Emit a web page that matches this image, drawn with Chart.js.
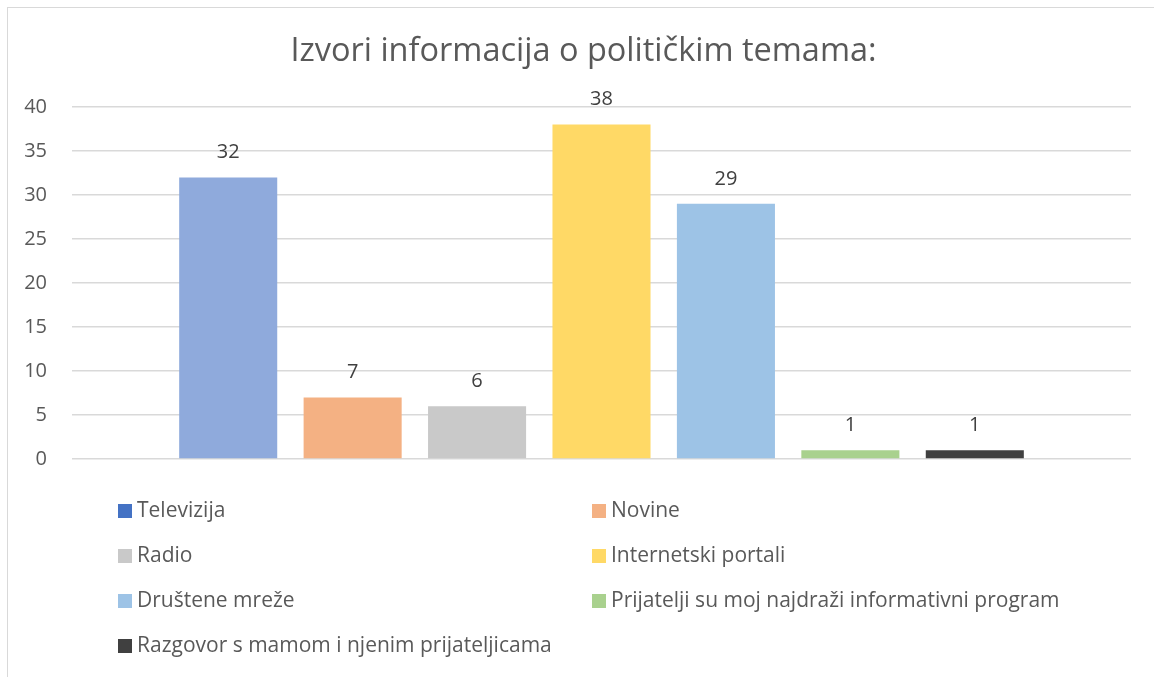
<!DOCTYPE html>
<html>
<head>
<meta charset="utf-8">
<script src="https://cdn.jsdelivr.net/npm/chart.js@4"></script>
<style>
  html, body { margin: 0; padding: 0; background: #fff; overflow: hidden; }
  #frame { position: absolute; left: 7px; top: 7px; width: 1200px; height: 700px; border: 1px solid #d9d9d9; }
  #myChart { position: absolute; left: 0; top: 0; }
</style>
</head>
<body>
<div id="frame"></div>
<canvas id="myChart" width="1154" height="677"></canvas>
<script>
const chartTitle = 'Izvori informacija o političkim temama:';
const seriesNames = ['Televizija', 'Novine', 'Radio', 'Internetski portali',
                     'Društene mreže', 'Prijatelji su moj najdraži informativni program',
                     'Razgovor s mamom i njenim prijateljicama'];
const seriesValues = [32, 7, 6, 38, 29, 1, 1];
const barColors = ['#8faadc', '#f4b183', '#c9c9c9', '#ffd966', '#9dc3e6', '#a9d18e', '#404040'];
const legendColors = ['#4472c4', '#f4b183', '#c9c9c9', '#ffd966', '#9dc3e6', '#a9d18e', '#404040'];
const yTicks = [0, 5, 10, 15, 20, 25, 30, 35, 40];

const FONT = '"Open Sans", Lato, sans-serif';

// naslov (centriran na okvir grafikona, ne na plot)
const frameTitle = {
    id: 'frameTitle',
    afterDraw(c) {
        const ctx = c.ctx;
        ctx.save();
        ctx.font = '32.5px ' + FONT;
        ctx.fillStyle = '#595959';
        ctx.textAlign = 'center';
        ctx.textBaseline = 'middle';
        ctx.fillText(chartTitle, (36 + c.chartArea.right) / 2, 52);
        ctx.restore();
    }
};

// vrijednosti iznad stupaca
const valueLabels = {
    id: 'valueLabels',
    afterDatasetsDraw(c) {
        const ctx = c.ctx;
        ctx.save();
        ctx.font = '20px ' + FONT;
        ctx.fillStyle = '#404040';
        ctx.textAlign = 'center';
        ctx.textBaseline = 'middle';
        c.data.datasets.forEach((ds, i) => {
            const bar = c.getDatasetMeta(i).data[0];
            ctx.fillText(ds.data[0], bar.x, bar.y - 25);
        });
        ctx.restore();
    }
};

// legenda u dva stupca
const twoColLegend = {
    id: 'twoColLegend',
    afterDraw(c) {
        const ctx = c.ctx;
        ctx.save();
        ctx.font = '21px ' + FONT;
        ctx.textBaseline = 'middle';
        ctx.textAlign = 'left';
        c.data.datasets.forEach((ds, i) => {
            const col = i % 2, row = Math.floor(i / 2);
            const x = col === 0 ? 118 : 592;
            const y = 511 + row * 45;
            ctx.fillStyle = legendColors[i];
            ctx.fillRect(x, y - 7, 14, 14);
            ctx.fillStyle = '#595959';
            ctx.fillText(ds.label, x + 19, y);
        });
        ctx.restore();
    }
};

const datasets = seriesNames.map((name, i) => ({
    label: name,
    data: [seriesValues[i]],
    backgroundColor: barColors[i],
    categoryPercentage: 0.8225,
    barPercentage: 0.788
}));

new Chart(document.getElementById('myChart'), {
    type: 'bar',
    data: { labels: [''], datasets: datasets },
    options: {
        responsive: false,
        animation: false,
        layout: { padding: { top: 107, left: 0, right: 23, bottom: 218 } },
        plugins: {
            legend: { display: false },
            tooltip: { enabled: false },
            title: { display: false }
        },
        scales: {
            x: { display: false },
            y: {
                min: 0, max: 40,
                afterFit(scale) { scale.width = 72; },
                afterBuildTicks(scale) { scale.ticks = yTicks.map(v => ({ value: v })); },
                border: { display: false },
                grid: { color: '#d9d9d9', lineWidth: 1.5, drawTicks: false },
                ticks: { color: '#595959', padding: 25, font: { family: FONT, size: 20 } }
            }
        }
    },
    plugins: [frameTitle, valueLabels, twoColLegend]
});
</script>
</body>
</html>
